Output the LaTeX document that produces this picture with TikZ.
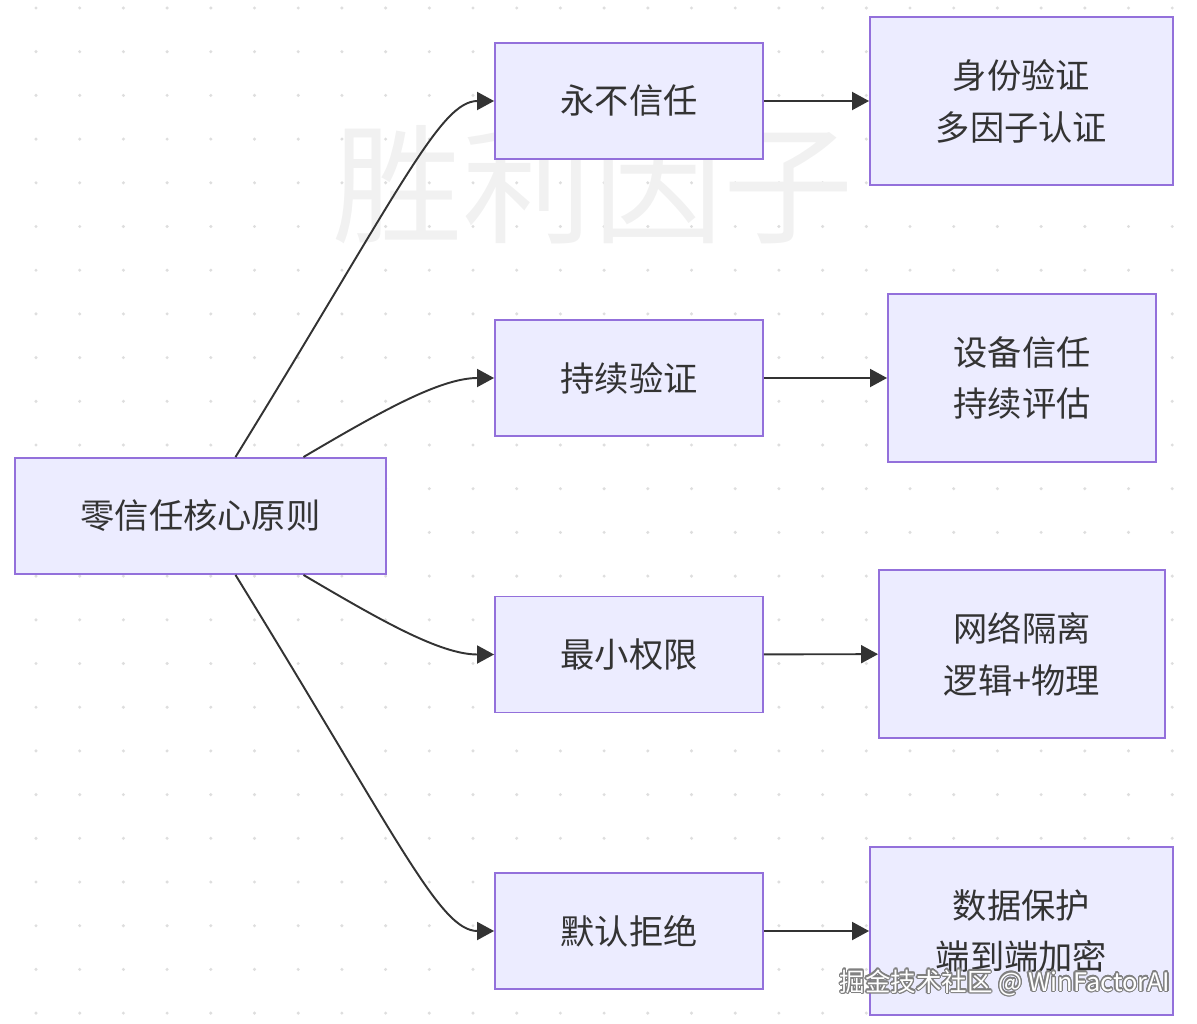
\documentclass[tikz,border=0pt]{standalone}
\usepackage{fontspec}
\newfontfamily\cjk{Noto Sans CJK SC}
\usepackage{contour}
\contourlength{0.7pt}
\usetikzlibrary{arrows.meta, positioning}
\definecolor{cfill}{HTML}{ECECFF}
\definecolor{cline}{HTML}{9370DB}
\definecolor{ctext}{HTML}{333333}
\definecolor{cdot}{HTML}{DEDEDE}
\definecolor{cmark}{HTML}{F1F1F1}
\tikzset{
  every picture/.style={line width=1.1pt},
  box/.style={draw=cline, fill=cfill, align=center, text=ctext, inner sep=0pt,
    font=\cjk\fontsize{19.5}{29.5}\selectfont, minimum width=#1, minimum height=2.32cm},
  box/.default=5.36cm,
  tallbox/.style={box=#1, minimum height=3.36cm},
  arrow/.style={-{Triangle[length=0.34cm, width=0.36cm]}, draw=ctext, line width=1.1pt},
  watermark/.style={text=cmark, font=\cjk\fontsize{74}{80}\selectfont},
  signature/.style={text=white, font=\cjk\fontsize{14.5}{16}\selectfont},
}

\begin{document}
\begin{tikzpicture}[x=0.02cm, y=-0.02cm]
  \useasboundingbox (0,0) rectangle (1197,1024);
  % dotted background
  \foreach \i in {0,...,26}
    \foreach \j in {0,...,23}
      \fill[cdot] (36+43.7*\i, 8+43.7*\j) circle (1.7);
  \node[watermark] (wm) at (593,185) {胜利因子};

  \node[box=7.42cm] (core) at (200.5,516) {零信任核心原则};

  \node[box] (never) at (629,101) {永不信任};
  \node[box] (verify) at (629,378) {持续验证};
  \node[box] (least) at (629,654.5) {最小权限};
  \node[box] (deny) at (629,931) {默认拒绝};

  \node[tallbox=6.06cm] (ident) at (1021.5,101) {身份验证\\多因子认证};
  \node[tallbox=5.36cm] (device) at (1022,378) {设备信任\\持续评估};
  \node[tallbox=5.72cm] (net) at (1022,654) {网络隔离\\逻辑+物理};
  \node[tallbox=6.06cm] (data) at (1021.5,931) {数据保护\\端到端加密};

  \draw[arrow] ([xshift=0.7cm]core.north) .. controls (400,190) and (440,101) .. (never.west);
  \draw[arrow] ([xshift=2.06cm]core.north) .. controls (380,412) and (440,378) .. (verify.west);
  \draw[arrow] ([xshift=2.06cm]core.south) .. controls (380,620) and (440,654.5) .. (least.west);
  \draw[arrow] ([xshift=0.7cm]core.south) .. controls (400,842) and (440,931) .. (deny.west);

  \draw[arrow] (never) -- (ident);
  \draw[arrow] (verify) -- (device);
  \draw[arrow] (least) -- (net);
  \draw[arrow] (deny) -- (data);

  \node[signature] (credit) at (1005,983) {\contour{gray}{掘金技术社区 @ WinFactorAI}};
\end{tikzpicture}
\end{document}
